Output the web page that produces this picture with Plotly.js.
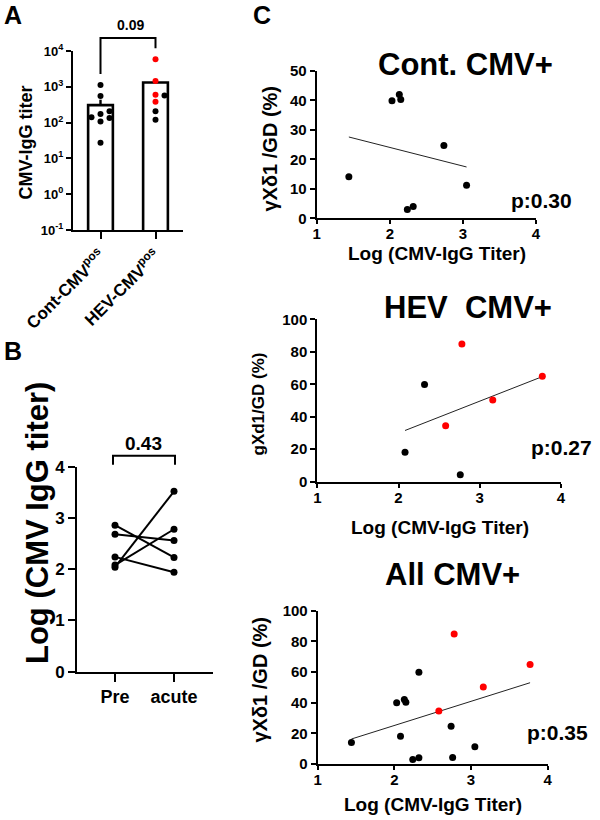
<!DOCTYPE html>
<html>
<head>
<meta charset="utf-8">
<script src="https://cdn.plot.ly/plotly-3.0.1.min.js"></script>
<style>
  html, body { margin: 0; padding: 0; background: #fff; }
  #chart { width: 600px; height: 820px; }
</style>
</head>
<body>
<div id="chart"></div>
<script>
// ---- Data -------------------------------------------------------------
// log10 CMV-IgG titer and γδ1 share of γδ T cells (%) per donor
const contLogTiter = [1.44, 2.03, 2.13, 2.15, 2.24, 2.32, 2.74, 3.05];
const contGD       = [14.1, 39.9, 42.0, 40.3, 3.0, 4.0, 24.7, 11.2];

const hevBlackLogTiter = [2.08, 2.32, 2.76];
const hevBlackGD       = [18.1, 59.8, 4.3];
const hevRedLogTiter   = [2.58, 2.78, 3.16, 3.77];
const hevRedGD         = [34.5, 84.8, 50.3, 64.9];

const groupLabels = ['Cont-CMV<sup>pos</sup>', 'HEV-CMV<sup>pos</sup>'];
const logTickVals = [0.1, 1, 10, 100, 1000, 10000];
const logTickText = ['10<sup>-1</sup>', '10<sup>0</sup>', '10<sup>1</sup>',
                     '10<sup>2</sup>', '10<sup>3</sup>', '10<sup>4</sup>'];

// paired log titers, before and during acute infection
const pairLabels = ['Pre', 'acute'];
const preLogTiter   = [2.86, 2.68, 2.24, 2.08, 2.04];
const acuteLogTiter = [2.23, 2.56, 1.94, 2.78, 3.52];

const groupP = '0.09';
const pairP = '0.43';
const scatterTitles = ['Cont. CMV+', 'HEV\u00a0\u00a0CMV+', 'All CMV+'];
const scatterP = ['p:0.30', 'p:0.27', 'p:0.35'];
const yTitleGamma = 'γXδ1 /GD (%)';
const yTitleLatin = 'gXd1/GD (%)';
const xTitleLog = 'Log (CMV-IgG Titer)';

// ---- Geometry (pixels) ------------------------------------------------
const W = 600, H = 820;
const FONT = 'Liberation Sans, Arial, Helvetica, sans-serif';
const px = p => p / W;
const py = p => 1 - p / H;

const boxA  = { l: 73,    r: 183,   t: 51,    b: 230 };
const boxB  = { l: 77,    r: 213,   t: 466.7, b: 671.7 };
const boxC1 = { l: 316.7, r: 536,   t: 71,    b: 218.3 };
const boxC2 = { l: 317.3, r: 561,   t: 319.3, b: 481.7 };
const boxC3 = { l: 317.7, r: 547.7, t: 610.7, b: 764 };

const rangeA = [-0.5, 1.5];
const rangeB = [-0.644, 1.661];

// ---- Helpers ----------------------------------------------------------
const mean = a => a.reduce((s, v) => s + v, 0) / a.length;
function sem(a) {
  const m = mean(a);
  const v = a.reduce((s, x) => s + (x - m) * (x - m), 0) / (a.length - 1);
  return Math.sqrt(v) / Math.sqrt(a.length);
}
function linFit(xs, ys) {
  const mx = mean(xs), my = mean(ys);
  let sxy = 0, sxx = 0;
  xs.forEach((x, i) => { sxy += (x - mx) * (ys[i] - my); sxx += (x - mx) * (x - mx); });
  const b = sxy / sxx, a = my - b * mx;
  const x0 = Math.min(...xs), x1 = Math.max(...xs);
  return { x: [x0, x1], y: [a + b * x0, a + b * x1] };
}
// column-scatter layout: stack points sideways when they would overlap
function swarm(logVals, pxPerDecade, gapPx, stepPx, pxPerCat) {
  const order = logVals.map((v, i) => i).sort((a, b) => logVals[a] - logVals[b]);
  const placed = [];
  const off = new Array(logVals.length);
  order.forEach(i => {
    const y = logVals[i] * pxPerDecade;
    for (let k = 0; ; k++) {
      const lane = k === 0 ? 0 : (k % 2 ? (k + 1) / 2 : -k / 2);
      const free = placed.every(p => p.lane !== lane || Math.abs(p.y - y) >= gapPx);
      if (free) { placed.push({ lane, y }); off[i] = lane * stepPx / pxPerCat; break; }
    }
  });
  return off;
}
const dom = b => ({ x: [px(b.l), px(b.r)], y: [py(b.b), py(b.t)] });

function axisBase(extra) {
  return Object.assign({
    showline: true, linecolor: '#000', linewidth: 2,
    ticks: 'outside', tickcolor: '#000', tickwidth: 2, ticklen: 5,
    showgrid: false, zeroline: false, fixedrange: true,
    tickfont: { family: FONT, size: 15, color: '#000', weight: 'bold' }
  }, extra);
}

// ---- Panel A: titers per group ----------------------------------------
const contTiter = contLogTiter.map(v => Math.pow(10, v));
const hevBlackTiter = hevBlackLogTiter.map(v => Math.pow(10, v));
const hevRedTiter = hevRedLogTiter.map(v => Math.pow(10, v));
const hevAllTiter = hevBlackTiter.concat(hevRedTiter);
const barMeans = [mean(contTiter), mean(hevAllTiter)];

const pxPerDecadeA = (boxA.b - boxA.t) / 5;
const pxPerCatA = (boxA.r - boxA.l) / (rangeA[1] - rangeA[0]);
const contOff = swarm(contLogTiter, pxPerDecadeA, 6.5, 9, pxPerCatA);
const hevLogAll = hevBlackLogTiter.concat(hevRedLogTiter);
const hevOff = swarm(hevLogAll, pxPerDecadeA, 6.5, 9, pxPerCatA);
const nB = hevBlackLogTiter.length;

const traces = [];
traces.push({
  type: 'bar', x: [0, 1], y: barMeans, width: 0.45,
  marker: { color: '#fff', line: { color: '#000', width: 2.6 } },
  error_y: { type: 'data', symmetric: false, array: [sem(contTiter), 0], arrayminus: [0, 0],
             color: '#000', thickness: 2.4, width: 0 },
  xaxis: 'x', yaxis: 'y', hoverinfo: 'skip'
});
traces.push({
  type: 'scatter', mode: 'markers',
  x: contOff.map(o => 0 + o), y: contTiter,
  marker: { color: '#000', size: 6 }, xaxis: 'x', yaxis: 'y', cliponaxis: false
});
traces.push({
  type: 'scatter', mode: 'markers',
  x: hevOff.slice(0, nB).map(o => 1 + o), y: hevBlackTiter,
  marker: { color: '#000', size: 6 }, xaxis: 'x', yaxis: 'y', cliponaxis: false
});
traces.push({
  type: 'scatter', mode: 'markers',
  x: hevOff.slice(nB).map(o => 1 + o), y: hevRedTiter,
  marker: { color: '#ff0000', size: 6 }, xaxis: 'x', yaxis: 'y', cliponaxis: false
});

// ---- Panel B: paired titers --------------------------------------------
preLogTiter.forEach((v, i) => {
  traces.push({
    type: 'scatter', mode: 'lines+markers',
    x: [0, 1], y: [v, acuteLogTiter[i]],
    line: { color: '#000', width: 2 }, marker: { color: '#000', size: 7 },
    xaxis: 'x2', yaxis: 'y2', cliponaxis: false
  });
});

// ---- Panel C: titer vs γδ1 share ----------------------------------------
function scatterSet(ax, blackX, blackY, redX, redY) {
  const fit = linFit(blackX.concat(redX), blackY.concat(redY));
  traces.push({ type: 'scatter', mode: 'lines', x: fit.x, y: fit.y,
    line: { color: '#222', width: 1 }, xaxis: 'x' + ax, yaxis: 'y' + ax });
  traces.push({ type: 'scatter', mode: 'markers', x: blackX, y: blackY,
    marker: { color: '#000', size: 7 }, xaxis: 'x' + ax, yaxis: 'y' + ax, cliponaxis: false });
  if (redX.length) {
    traces.push({ type: 'scatter', mode: 'markers', x: redX, y: redY,
      marker: { color: '#ff0000', size: 7 }, xaxis: 'x' + ax, yaxis: 'y' + ax, cliponaxis: false });
  }
}
scatterSet(3, contLogTiter, contGD, [], []);
scatterSet(4, hevBlackLogTiter, hevBlackGD, hevRedLogTiter, hevRedGD);
scatterSet(5, contLogTiter.concat(hevBlackLogTiter), contGD.concat(hevBlackGD), hevRedLogTiter, hevRedGD);

// ---- Annotations and brackets ------------------------------------------
function note(text, x, y, size, extra) {
  return Object.assign({
    text, xref: 'paper', yref: 'paper', x: px(x), y: py(y),
    xanchor: 'center', yanchor: 'middle', showarrow: false,
    font: { family: FONT, size, color: '#000', weight: 'bold' }
  }, extra || {});
}
const xA = i => boxA.l + (i - rangeA[0]) / (rangeA[1] - rangeA[0]) * (boxA.r - boxA.l);
const yA = v => boxA.b - (Math.log10(v) + 1) / 5 * (boxA.b - boxA.t);
const xB = i => boxB.l + (i - rangeB[0]) / (rangeB[1] - rangeB[0]) * (boxB.r - boxB.l);

const brA = { y: boxA.t - 13, l: xA(0), r: xA(1),
  lb: yA(Math.max(...contTiter)) - 11, rb: yA(Math.max(...hevAllTiter)) - 11 };
const brB = { y: boxB.t - 11, l: xB(0) - 2, r: xB(1) + 1, lb: boxB.t - 2, rb: boxB.t - 2 };
const bracketPath = b =>
  `M ${px(b.l)} ${py(b.lb)} L ${px(b.l)} ${py(b.y)} L ${px(b.r)} ${py(b.y)} L ${px(b.r)} ${py(b.rb)}`;

const annotations = [
  note('A', 13, 15, 25),
  note('B', 13, 351, 25),
  note('C', 262, 15, 25),
  note(groupP, (brA.l + brA.r) / 2 + 2, brA.y - 13, 14),
  note(pairP, (brB.l + brB.r) / 2, brB.y - 12, 19),
  note('CMV-IgG titer', 25, 142.5, 18, { textangle: -90 }),
  note('Log (CMV IgG titer)', 37, 523, 31, { textangle: -90 }),
  note(scatterTitles[0], 465, 64.5, 31),
  note(scatterTitles[1], 468, 307.5, 31),
  note(scatterTitles[2], 452, 574.5, 31),
  note(scatterP[0], 541, 200, 21),
  note(scatterP[1], 561, 447, 21),
  note(scatterP[2], 557, 732, 21),
  note(yTitleGamma, 269.5, 149, 20, { textangle: -90 }),
  note(yTitleLatin, 257.5, 404, 17, { textangle: -90 }),
  note(yTitleGamma, 259.5, 680, 20, { textangle: -90 }),
  note(xTitleLog, 437, 253, 19),
  note(xTitleLog, 440, 527, 19),
  note(xTitleLog, 433, 804, 19)
];

const shapes = [brA, brB].map(b => ({
  type: 'path', xref: 'paper', yref: 'paper', path: bracketPath(b),
  line: { color: '#000', width: 2 }
}));

// ---- Layout -------------------------------------------------------------
const dA = dom(boxA), dB = dom(boxB), d3 = dom(boxC1), d4 = dom(boxC2), d5 = dom(boxC3);
const linX = (d, anchor) => axisBase({ domain: d.x, anchor, range: [1, 4], tickvals: [1, 2, 3, 4],
  ticklen: 4, ticklabelstandoff: -3 });
const layout = {
  width: W, height: H,
  margin: { l: 0, r: 0, t: 0, b: 0 },
  paper_bgcolor: '#fff', plot_bgcolor: 'rgba(0,0,0,0)',
  showlegend: false,
  xaxis: axisBase({ domain: dA.x, anchor: 'y', range: rangeA, tickvals: [0, 1],
    ticktext: groupLabels, tickangle: -45, ticklen: 7,
    tickfont: { family: FONT, size: 17, color: '#000', weight: 'bold' } }),
  yaxis: axisBase({ domain: dA.y, anchor: 'x', type: 'log', range: [-1, 4],
    tickvals: logTickVals, ticktext: logTickText, ticklen: 5,
    tickfont: { family: FONT, size: 13, color: '#000', weight: 'bold' } }),
  xaxis2: axisBase({ domain: dB.x, anchor: 'y2', range: rangeB, tickvals: [0, 1],
    ticktext: pairLabels, ticklen: 8,
    tickfont: { family: FONT, size: 18, color: '#000', weight: 'bold' } }),
  yaxis2: axisBase({ domain: dB.y, anchor: 'x2', range: [0, 4], tickvals: [0, 1, 2, 3, 4],
    ticklen: 7, tickfont: { family: FONT, size: 17, color: '#000', weight: 'bold' } }),
  xaxis3: linX(d3, 'y3'),
  yaxis3: axisBase({ domain: d3.y, anchor: 'x3', range: [0, 50], tickvals: [0, 10, 20, 30, 40, 50] }),
  xaxis4: linX(d4, 'y4'),
  yaxis4: axisBase({ domain: d4.y, anchor: 'x4', range: [0, 100], tickvals: [0, 20, 40, 60, 80, 100] }),
  xaxis5: linX(d5, 'y5'),
  yaxis5: axisBase({ domain: d5.y, anchor: 'x5', range: [0, 100], tickvals: [0, 20, 40, 60, 80, 100] }),
  annotations, shapes
};

Plotly.newPlot('chart', traces, layout, { staticPlot: true, displayModeBar: false });
</script>
</body>
</html>
